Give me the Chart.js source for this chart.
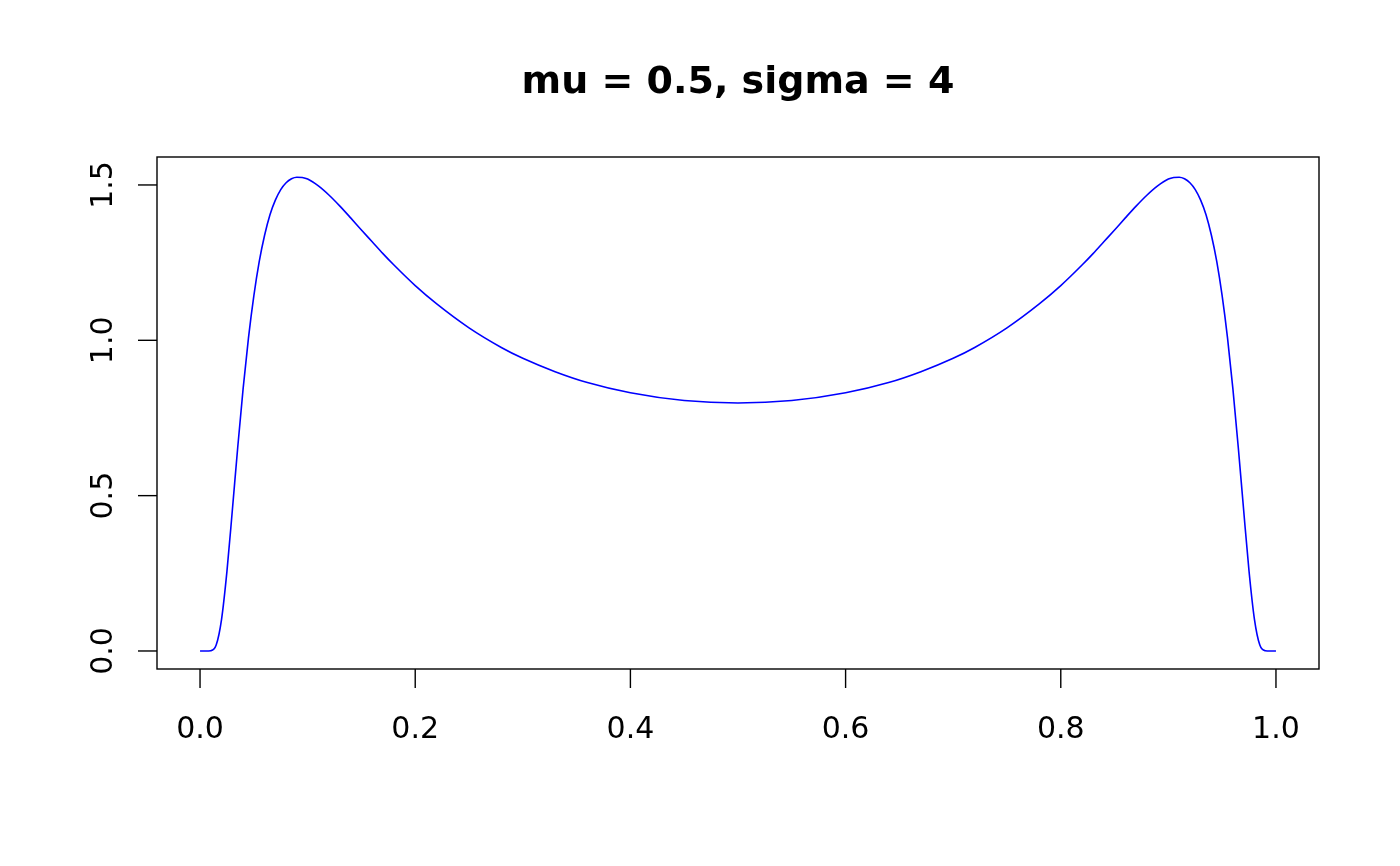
<!DOCTYPE html>
<html lang="en">
<head>
  <meta charset="UTF-8">
  <title>mu = 0.5, sigma = 4</title>
  <script src="https://cdn.jsdelivr.net/npm/chart.js"></script>
  <style>
    html, body { margin: 0; padding: 0; background: #fff; }
    canvas { display: block; }
  </style>
</head>
<body>
  <canvas id="densChart" width="1400" height="866"></canvas>

  <script>
    // values (symmetric around 0.5)
    const xVals = [0, 0.005, 0.01, 0.015, 0.02, 0.025, 0.03, 0.035, 0.04, 0.045, 0.05, 0.055,
      0.06, 0.065, 0.07, 0.075, 0.08, 0.085, 0.09, 0.095, 0.10,
      0.11, 0.12, 0.13, 0.14, 0.15, 0.16, 0.17, 0.18,
      0.20, 0.22, 0.25, 0.28, 0.30, 0.33, 0.36, 0.40, 0.45, 0.50,
      0.55, 0.60, 0.64, 0.67, 0.70, 0.72, 0.75, 0.78, 0.80, 0.82,
      0.83, 0.84, 0.85, 0.86, 0.87, 0.88, 0.89, 0.90,
      0.905, 0.91, 0.915, 0.92, 0.925, 0.93, 0.935, 0.94,
      0.945, 0.95, 0.955, 0.96, 0.965, 0.97, 0.975, 0.98,
      0.985, 0.99, 0.995, 1.0];
    const densVals = [0, 0, 0.001, 0.019, 0.102, 0.256, 0.452, 0.654, 0.843, 1.007, 1.143, 1.253,
      1.338, 1.404, 1.451, 1.485, 1.507, 1.520, 1.525, 1.524, 1.519,
      1.497, 1.467, 1.432, 1.394, 1.355, 1.317, 1.279, 1.243,
      1.176, 1.117, 1.040, 0.977, 0.942, 0.899, 0.864, 0.831, 0.806, 0.798,
      0.806, 0.831, 0.864, 0.899, 0.942, 0.977, 1.040, 1.117, 1.176, 1.243,
      1.279, 1.317, 1.355, 1.394, 1.432, 1.467, 1.497, 1.519,
      1.524, 1.525, 1.520, 1.507, 1.485, 1.451, 1.404, 1.338,
      1.253, 1.143, 1.007, 0.843, 0.654, 0.452, 0.256, 0.102,
      0.019, 0.001, 0, 0];
    const xTicks = [0, 0.2, 0.4, 0.6, 0.8, 1.0];
    const yTicks = [0, 0.5, 1.0, 1.5];
    const titleText = 'mu = 0.5, sigma = 4';

    const points = xVals.map((x, i) => ({ x: x, y: densVals[i] }));

    // R style box, ticks and labels drawn off the chart's own scales
    const baseAxes = {
      id: 'baseAxes',
      afterDraw(chart) {
        const ctx = chart.ctx;
        const area = chart.chartArea;
        const sx = chart.scales.x;
        const sy = chart.scales.y;
        ctx.save();
        ctx.strokeStyle = '#000';
        ctx.fillStyle = '#000';
        ctx.lineWidth = 1.4;
        ctx.strokeRect(area.left, area.top, area.right - area.left, area.bottom - area.top);

        ctx.font = '30px "DejaVu Sans"';
        ctx.textAlign = 'center';
        ctx.textBaseline = 'alphabetic';
        xTicks.forEach(v => {
          const px = sx.getPixelForValue(v);
          ctx.beginPath();
          ctx.moveTo(px, area.bottom);
          ctx.lineTo(px, area.bottom + 19);
          ctx.stroke();
          ctx.fillText(v.toFixed(1), px, 738);
        });
        yTicks.forEach(v => {
          const py = sy.getPixelForValue(v);
          ctx.beginPath();
          ctx.moveTo(area.left, py);
          ctx.lineTo(area.left - 19, py);
          ctx.stroke();
          ctx.save();
          ctx.translate(112, py);
          ctx.rotate(-Math.PI / 2);
          ctx.fillText(v.toFixed(1), 0, 0);
          ctx.restore();
        });

        ctx.font = 'bold 38px "DejaVu Sans"';
        ctx.fillText(titleText, (area.left + area.right) / 2, 93);
        ctx.restore();
      }
    };

    new Chart(document.getElementById('densChart'), {
      type: 'line',
      data: {
        datasets: [{
          data: points,
          borderColor: '#0000ff',
          borderWidth: 1.6,
          pointRadius: 0,
          fill: false,
          cubicInterpolationMode: 'monotone'
        }]
      },
      options: {
        responsive: false,
        animation: false,
        devicePixelRatio: 1,
        layout: {
          padding: { left: 157, top: 157, right: 81, bottom: 197 }
        },
        plugins: {
          legend: { display: false },
          tooltip: { enabled: false },
          title: { display: false }
        },
        scales: {
          x: { type: 'linear', display: false, min: -0.04, max: 1.04 },
          y: { type: 'linear', display: false, min: -0.058, max: 1.59 }
        }
      },
      plugins: [baseAxes]
    });
  </script>
</body>
</html>
